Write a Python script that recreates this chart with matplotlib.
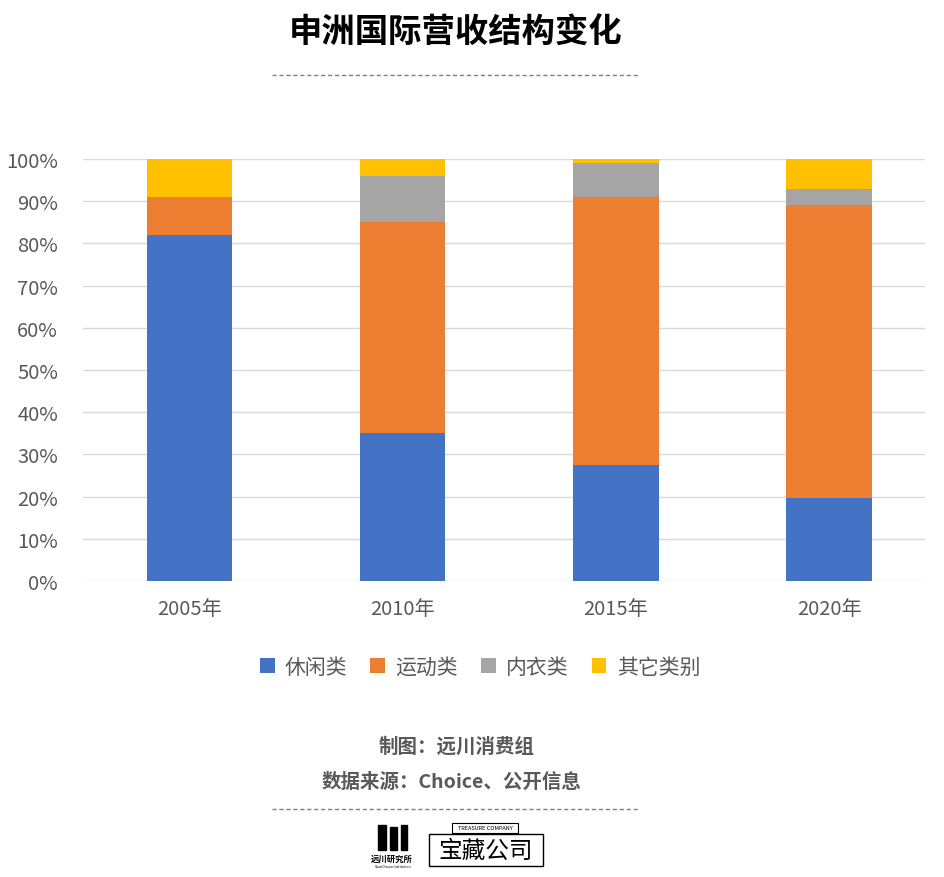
import matplotlib
matplotlib.use("Agg")
import matplotlib.pyplot as plt
from matplotlib.patches import Rectangle

plt.rcParams['font.family'] = ['Noto Sans CJK SC', 'DejaVu Sans']

years = ["2005年", "2010年", "2015年", "2020年"]
series_names = ["休闲类", "运动类", "内衣类", "其它类别"]
casual = [82.0, 35.0, 27.5, 19.7]
sports = [9.0, 50.0, 63.5, 69.3]
underwear = [0.0, 11.0, 8.0, 4.0]
others = [9.0, 4.0, 1.0, 7.0]
colors = ["#4472C4", "#ED7D31", "#A5A5A5", "#FFC000"]
yticks = [0, 10, 20, 30, 40, 50, 60, 70, 80, 90, 100]

fig = plt.figure(figsize=(9.44, 8.78), dpi=100)
W, H = 944, 878

ax = fig.add_axes([83 / W, 1 - 582 / H, (925 - 83) / W, (582 - 160) / H])

x = list(range(len(years)))
bottom = [0.0] * len(years)
for vals, name, c in zip([casual, sports, underwear, others], series_names, colors):
    ax.bar(x, vals, width=0.4, bottom=bottom, color=c, label=name, zorder=3)
    bottom = [b + v for b, v in zip(bottom, vals)]

ax.set_xlim(-0.5, 3.45)
ax.set_ylim(0, 100)
ax.set_yticks(yticks)
ax.set_yticklabels([f"{t}%" for t in yticks])
ax.set_xticks(x)
ax.set_xticklabels(years)
ax.grid(axis="y", color="#D9D9D9", linewidth=1, zorder=0)
for s in ax.spines.values():
    s.set_visible(False)
ax.tick_params(axis="both", length=0, colors="#595959", labelsize=14.5)
ax.tick_params(axis="x", pad=12)
ax.tick_params(axis="y", pad=18)

leg = fig.legend(loc="center", bbox_to_anchor=(480 / W, 1 - 668 / H), ncol=4,
                 frameon=False, fontsize=15, handlelength=0.7, handleheight=0.7,
                 columnspacing=1.1, handletextpad=0.5)
for t in leg.get_texts():
    t.set_color("#595959")

# title and separators
fig.text(456 / W, 1 - 33 / H, "申洲国际营收结构变化", ha="center", va="center",
         fontsize=24, fontweight="bold", color="black")
for yy in (76, 810):
    fig.add_artist(plt.Line2D([272 / W, 640 / W], [1 - yy / H, 1 - yy / H],
                              color="#7F7F7F", linewidth=1, linestyle=(0, (3, 2))))

fig.text(457 / W, 1 - 747 / H, "制图：远川消费组", ha="center", va="center",
         fontsize=14, fontweight="bold", color="#595959")
fig.text(452 / W, 1 - 782 / H, "数据来源：Choice、公开信息", ha="center", va="center",
         fontsize=14, fontweight="bold", color="#595959")

# logos
for x0, x1, top in [(378, 386, 826), (390, 397, 828), (401, 407, 826)]:
    fig.add_artist(Rectangle((x0 / W, 1 - 851 / H), (x1 - x0) / W, (851 - top) / H,
                             transform=fig.transFigure, color="black"))
fig.text(392 / W, 1 - 859 / H, "远川研究所", ha="center", va="center", fontsize=6,
         fontweight="bold", color="black")
fig.text(392 / W, 1 - 867 / H, "YuanChuan Institution", ha="center", va="center",
         fontsize=2.5, color="black")
fig.add_artist(Rectangle((429 / W, 1 - 867 / H), (543 - 429) / W, (867 - 835) / H,
                         transform=fig.transFigure, fill=False, edgecolor="black", linewidth=1))
fig.add_artist(Rectangle((452 / W, 1 - 834 / H), (518 - 452) / W, (834 - 824) / H,
                         transform=fig.transFigure, fill=False, edgecolor="black", linewidth=0.8))
fig.text(485 / W, 1 - 829 / H, "TREASURE COMPANY", ha="center", va="center",
         fontsize=4, color="black")
fig.text(486 / W, 1 - 851 / H, "宝藏公司", ha="center", va="center",
         fontsize=17, color="black", family=["Noto Sans CJK SC"])

fig.savefig("out.png", dpi=100, facecolor="white")
